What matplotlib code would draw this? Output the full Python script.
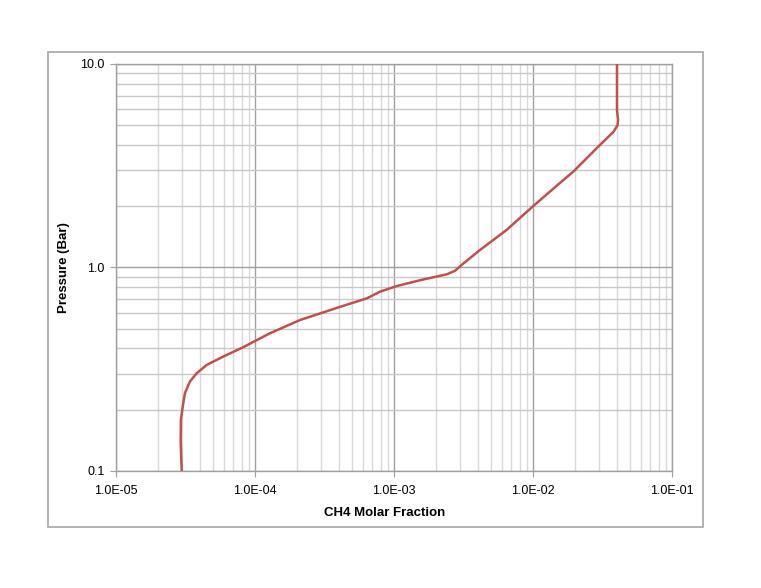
import matplotlib
matplotlib.use("Agg")
import matplotlib.pyplot as plt
from matplotlib.patches import Rectangle
from matplotlib.ticker import FixedLocator, LogLocator, NullFormatter

# Data
ch4_fraction = [2.97e-5, 2.92e-5, 2.93e-5, 3.02e-5, 3.13e-5, 3.4e-5, 3.8e-5, 4.49e-5,
                5.91e-5, 8.24e-5, 1.28e-4, 2.11e-4, 4.1e-4, 6.4e-4, 7.9e-4, 1.05e-3,
                1.56e-3, 2.4e-3, 2.75e-3, 3.07e-3, 4.16e-3, 6.46e-3, 1.0e-2, 1.56e-2,
                1.95e-2, 3.03e-2, 3.79e-2, 4.06e-2, 4.09e-2, 4.02e-2, 4.02e-2]
pressure = [0.1, 0.14, 0.178, 0.207, 0.241, 0.275, 0.302, 0.332,
            0.365, 0.406, 0.475, 0.552, 0.641, 0.706, 0.760, 0.811,
            0.868, 0.926, 0.964, 1.03, 1.22, 1.53, 2.0, 2.6,
            2.96, 4.0, 4.64, 5.01, 5.31, 5.94, 10.0]
x_ticks = [1e-5, 1e-4, 1e-3, 1e-2, 1e-1]
x_tick_labels = ["1.0E-05", "1.0E-04", "1.0E-03", "1.0E-02", "1.0E-01"]
y_ticks = [0.1, 1.0, 10.0]
y_tick_labels = ["0.1", "1.0", "10.0"]

plt.rcParams['font.family'] = ['Liberation Sans', 'DejaVu Sans']

W, H = 761, 588
fig = plt.figure(figsize=(W / 100, H / 100), dpi=100)
fig.patch.set_facecolor("white")

# outer chart border
fig.patches.append(Rectangle((48 / W, 1 - 527 / H), (703 - 48) / W, (527 - 52) / H,
                             transform=fig.transFigure, fill=False,
                             edgecolor="#a6a6a6", linewidth=1.2))

ax = fig.add_axes([116 / W, 1 - 471 / H, (672 - 116) / W, (471 - 64) / H])
ax.set_xscale("log")
ax.set_yscale("log")
ax.set_xlim(1e-5, 1e-1)
ax.set_ylim(0.1, 10)

ax.plot(ch4_fraction, pressure, color="#c0504d", linewidth=1.8,
        solid_joinstyle="round", solid_capstyle="butt", zorder=3)

ax.xaxis.set_major_locator(FixedLocator(x_ticks))
ax.set_xticklabels(x_tick_labels)
ax.yaxis.set_major_locator(FixedLocator(y_ticks))
ax.set_yticklabels(y_tick_labels)
ax.xaxis.set_minor_locator(LogLocator(base=10, subs=range(2, 10), numticks=20))
ax.yaxis.set_minor_locator(LogLocator(base=10, subs=range(2, 10), numticks=20))
ax.xaxis.set_minor_formatter(NullFormatter())
ax.yaxis.set_minor_formatter(NullFormatter())

ax.grid(which="major", axis="both", color="#a0a0a0", linewidth=1.0)
ax.grid(which="minor", axis="x", color="#d9d9d9", linewidth=1.0)
ax.grid(which="minor", axis="y", color="#c8c8c8", linewidth=1.0)
ax.set_axisbelow(True)

for s in ax.spines.values():
    s.set_color("#a0a0a0")
    s.set_linewidth(1.0)

ax.tick_params(which="major", length=4, color="#a0a0a0", labelsize=9, direction="out")
ax.tick_params(which="minor", length=0)
ax.tick_params(axis="x", pad=6)
ax.tick_params(axis="y", pad=4)

ax.set_xlabel("CH4 Molar Fraction", fontsize=9.5, fontweight="bold")
ax.set_ylabel("Pressure (Bar)", fontsize=9.5, fontweight="bold")
ax.xaxis.set_label_coords((385 - 116) / 556, (471 - 507) / 407)
ax.yaxis.set_label_coords((70 - 116) / 556, 0.5)

fig.savefig("out.png", dpi=100, facecolor="white")
